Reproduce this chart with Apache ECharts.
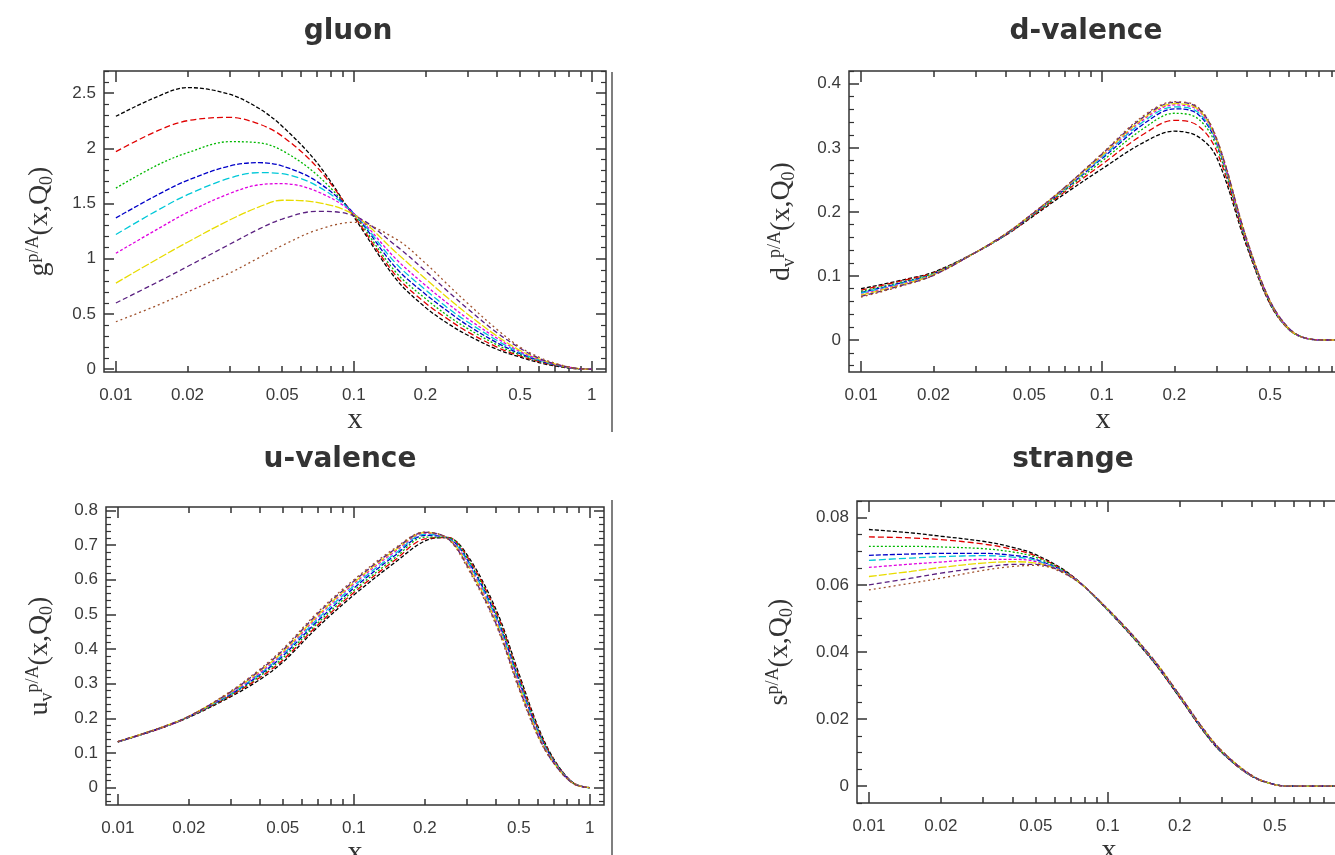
<!DOCTYPE html>
<html>
<head>
<meta charset="utf-8">
<script src="https://cdn.jsdelivr.net/npm/echarts@6/dist/echarts.min.js"></script>
<style>
  html, body { margin: 0; padding: 0; background: #fff; }
  #chart { width: 1335px; height: 855px; }
</style>
</head>
<body>
<div id="chart"></div>
<script>
// x grid shared by all four panels
const X = [0.01, 0.015, 0.02, 0.03, 0.04, 0.05, 0.07, 0.1, 0.15, 0.2, 0.25, 0.3, 0.4, 0.5, 0.6, 0.7, 0.85, 1.0]

const xLabelTicks = [0.01, 0.02, 0.05, 0.1, 0.2, 0.5, 1]
const xMajorTicks = [0.01, 0.1, 1]
const xMinorTicks = [0.02, 0.03, 0.04, 0.05, 0.06, 0.07, 0.08, 0.09, 0.2, 0.3, 0.4, 0.5, 0.6, 0.7, 0.8, 0.9]

const curveColors = ['#000000', '#e00000', '#00b800', '#0000c8', '#00c8d8', '#e000e0', '#e8dc00', '#5a2080', '#a0522d']
const curveDashes = [[4, 2], [6, 3], [2, 2], [5, 2], [7, 3], [3, 2], [8, 2], [5, 3], [2, 3]]

const gluon = [
  [2.29, 2.47, 2.55, 2.49, 2.36, 2.20, 1.87, 1.38, 0.82, 0.56, 0.41, 0.31, 0.18, 0.11, 0.06, 0.03, 0.005, 0],
  [1.97, 2.16, 2.25, 2.28, 2.22, 2.11, 1.83, 1.39, 0.85, 0.60, 0.45, 0.34, 0.20, 0.12, 0.07, 0.035, 0.006, 0],
  [1.64, 1.85, 1.96, 2.06, 2.05, 1.98, 1.76, 1.40, 0.88, 0.64, 0.48, 0.37, 0.22, 0.13, 0.075, 0.038, 0.007, 0],
  [1.37, 1.58, 1.71, 1.84, 1.87, 1.84, 1.70, 1.41, 0.92, 0.68, 0.52, 0.40, 0.24, 0.14, 0.08, 0.04, 0.008, 0],
  [1.22, 1.44, 1.58, 1.73, 1.78, 1.77, 1.66, 1.41, 0.96, 0.72, 0.55, 0.43, 0.26, 0.15, 0.085, 0.043, 0.008, 0],
  [1.05, 1.27, 1.42, 1.59, 1.67, 1.68, 1.61, 1.41, 1.00, 0.76, 0.59, 0.46, 0.28, 0.16, 0.09, 0.045, 0.009, 0],
  [0.78, 1.00, 1.15, 1.35, 1.47, 1.53, 1.51, 1.40, 1.06, 0.82, 0.64, 0.50, 0.30, 0.17, 0.095, 0.048, 0.009, 0],
  [0.60, 0.79, 0.93, 1.13, 1.27, 1.36, 1.43, 1.39, 1.12, 0.89, 0.70, 0.55, 0.33, 0.19, 0.10, 0.05, 0.01, 0],
  [0.43, 0.58, 0.70, 0.87, 1.01, 1.12, 1.26, 1.33, 1.18, 0.96, 0.76, 0.60, 0.36, 0.20, 0.11, 0.055, 0.01, 0]
]

const dValence = [
  [0.080, 0.094, 0.106, 0.137, 0.164, 0.189, 0.228, 0.267, 0.309, 0.326, 0.318, 0.285, 0.146, 0.056, 0.016, 0.003, 0, 0],
  [0.078, 0.093, 0.105, 0.137, 0.164, 0.190, 0.231, 0.274, 0.322, 0.343, 0.335, 0.295, 0.149, 0.057, 0.016, 0.003, 0, 0],
  [0.076, 0.091, 0.104, 0.137, 0.165, 0.191, 0.233, 0.279, 0.331, 0.354, 0.346, 0.302, 0.151, 0.058, 0.016, 0.003, 0, 0],
  [0.074, 0.090, 0.103, 0.137, 0.165, 0.192, 0.235, 0.283, 0.338, 0.361, 0.353, 0.307, 0.153, 0.059, 0.017, 0.003, 0, 0],
  [0.073, 0.089, 0.103, 0.137, 0.165, 0.192, 0.236, 0.285, 0.342, 0.364, 0.356, 0.309, 0.154, 0.059, 0.017, 0.003, 0, 0],
  [0.071, 0.088, 0.102, 0.137, 0.166, 0.193, 0.237, 0.287, 0.345, 0.367, 0.359, 0.311, 0.155, 0.060, 0.017, 0.003, 0, 0],
  [0.070, 0.087, 0.102, 0.137, 0.166, 0.193, 0.237, 0.288, 0.347, 0.369, 0.361, 0.312, 0.156, 0.060, 0.017, 0.003, 0, 0],
  [0.068, 0.086, 0.101, 0.137, 0.166, 0.193, 0.238, 0.290, 0.349, 0.371, 0.363, 0.314, 0.157, 0.061, 0.018, 0.003, 0, 0],
  [0.067, 0.085, 0.101, 0.137, 0.166, 0.194, 0.238, 0.291, 0.351, 0.372, 0.364, 0.315, 0.158, 0.061, 0.018, 0.003, 0, 0]
]

const uValence = [
  [0.132, 0.170, 0.203, 0.262, 0.312, 0.362, 0.462, 0.556, 0.651, 0.712, 0.722, 0.675, 0.515, 0.330, 0.180, 0.085, 0.014, 0],
  [0.132, 0.170, 0.204, 0.265, 0.318, 0.368, 0.468, 0.563, 0.658, 0.718, 0.722, 0.670, 0.508, 0.323, 0.175, 0.083, 0.014, 0],
  [0.132, 0.171, 0.204, 0.267, 0.322, 0.374, 0.474, 0.569, 0.664, 0.723, 0.722, 0.666, 0.502, 0.317, 0.171, 0.081, 0.013, 0],
  [0.132, 0.171, 0.205, 0.269, 0.326, 0.380, 0.480, 0.576, 0.671, 0.728, 0.721, 0.662, 0.496, 0.311, 0.167, 0.079, 0.013, 0],
  [0.133, 0.171, 0.205, 0.271, 0.329, 0.384, 0.486, 0.582, 0.676, 0.731, 0.721, 0.658, 0.490, 0.305, 0.163, 0.078, 0.013, 0],
  [0.133, 0.171, 0.205, 0.273, 0.332, 0.388, 0.492, 0.588, 0.682, 0.734, 0.720, 0.653, 0.484, 0.300, 0.159, 0.076, 0.012, 0],
  [0.133, 0.172, 0.206, 0.275, 0.336, 0.392, 0.496, 0.592, 0.686, 0.736, 0.719, 0.648, 0.479, 0.294, 0.156, 0.074, 0.012, 0],
  [0.133, 0.172, 0.206, 0.276, 0.339, 0.396, 0.501, 0.596, 0.689, 0.737, 0.719, 0.644, 0.474, 0.290, 0.153, 0.073, 0.012, 0],
  [0.133, 0.172, 0.206, 0.278, 0.342, 0.400, 0.505, 0.600, 0.692, 0.738, 0.718, 0.640, 0.470, 0.285, 0.150, 0.072, 0.012, 0]
]

const strange = [
  [0.0765, 0.0755, 0.0745, 0.0730, 0.0712, 0.0690, 0.0630, 0.0524, 0.0384, 0.0264, 0.0166, 0.0100, 0.0030, 0.0005, 0, 0, 0, 0],
  [0.0743, 0.0740, 0.0735, 0.0722, 0.0706, 0.0686, 0.0629, 0.0525, 0.0385, 0.0265, 0.0167, 0.0101, 0.0030, 0.0005, 0, 0, 0, 0],
  [0.0715, 0.0715, 0.0713, 0.0708, 0.0698, 0.0682, 0.0628, 0.0525, 0.0386, 0.0266, 0.0168, 0.0102, 0.0031, 0.0005, 0, 0, 0, 0],
  [0.0688, 0.0692, 0.0694, 0.0694, 0.0688, 0.0676, 0.0627, 0.0526, 0.0387, 0.0267, 0.0169, 0.0102, 0.0031, 0.0005, 0, 0, 0, 0],
  [0.0673, 0.0680, 0.0684, 0.0687, 0.0683, 0.0673, 0.0626, 0.0526, 0.0388, 0.0268, 0.0170, 0.0103, 0.0031, 0.0005, 0, 0, 0, 0],
  [0.0652, 0.0662, 0.0668, 0.0676, 0.0676, 0.0669, 0.0626, 0.0527, 0.0389, 0.0269, 0.0171, 0.0104, 0.0032, 0.0005, 0, 0, 0, 0],
  [0.0625, 0.0640, 0.0652, 0.0665, 0.0669, 0.0665, 0.0625, 0.0527, 0.0390, 0.0270, 0.0172, 0.0105, 0.0032, 0.0005, 0, 0, 0, 0],
  [0.0600, 0.0620, 0.0635, 0.0652, 0.0661, 0.0661, 0.0624, 0.0528, 0.0391, 0.0271, 0.0173, 0.0105, 0.0032, 0.0005, 0, 0, 0, 0],
  [0.0585, 0.0605, 0.0620, 0.0643, 0.0655, 0.0658, 0.0623, 0.0528, 0.0392, 0.0272, 0.0174, 0.0106, 0.0033, 0.0005, 0, 0, 0, 0]
]

const gluonYTicks = [0, 0.5, 1, 1.5, 2, 2.5]
const dValenceYTicks = [0, 0.1, 0.2, 0.3, 0.4]
const uValenceYTicks = [0, 0.1, 0.2, 0.3, 0.4, 0.5, 0.6, 0.7, 0.8]
const strangeYTicks = [0, 0.02, 0.04, 0.06, 0.08]

const panels = [
  {
    title: 'gluon', titleX: 348, titleY: 32, data: gluon,
    grid: { left: 104, top: 71, width: 502, height: 301 },
    yMin: -0.025, yMax: 2.7, yTicks: gluonYTicks, yMinorStep: 0.1, nameGap: 48,
    yName: '{m|g}{sup|p/A}{m|(x,Q}{sub|0}{m|)}'
  },
  {
    title: 'd-valence', titleX: 1086, titleY: 32, data: dValence,
    grid: { left: 849, top: 71, width: 508, height: 301 },
    yMin: -0.05, yMax: 0.42, yTicks: dValenceYTicks, yMinorStep: 0.02, nameGap: 51,
    yName: '{m|d}{sub|v}{sup|p/A}{m|(x,Q}{sub|0}{m|)}'
  },
  {
    title: 'u-valence', titleX: 340, titleY: 460, data: uValence,
    grid: { left: 106, top: 507, width: 498, height: 298 },
    yMin: -0.05, yMax: 0.81, yTicks: uValenceYTicks, yMinorStep: 0.02, nameGap: 50,
    yName: '{m|u}{sub|v}{sup|p/A}{m|(x,Q}{sub|0}{m|)}'
  },
  {
    title: 'strange', titleX: 1073, titleY: 460, data: strange,
    grid: { left: 857, top: 501, width: 504, height: 302 },
    yMin: -0.005, yMax: 0.085, yTicks: strangeYTicks, yMinorStep: 0.005, nameGap: 61,
    yName: '{m|s}{sup|p/A}{m|(x,Q}{sub|0}{m|)}'
  }
]

const LOG_MIN = -2.05
const LOG_MAX = 0.06
const log10 = v => Math.log10(v)

const tickFont = { fontFamily: 'Liberation Sans, Arial, sans-serif', fontSize: 17, color: '#3a3a3a' }
const serif = 'Liberation Serif, Times New Roman, serif'
const tickLine = { color: '#333', width: 1.5 }

function minorTicks(min, max, step, majors) {
  const out = []
  for (let k = Math.ceil(min / step); k * step <= max + 1e-9; k++) {
    const v = +(k * step).toFixed(6)
    if (!majors.some(m => Math.abs(m - v) < 1e-9)) out.push(v)
  }
  return out
}

const grids = []
const xAxes = []
const yAxes = []
const series = []
const graphics = []

panels.forEach((p, gi) => {
  grids.push({
    ...p.grid,
    outerBoundsMode: 'none',
    show: true,
    borderColor: '#333',
    borderWidth: 1.5,
    backgroundColor: 'transparent'
  })

  const xBase = {
    type: 'value', gridIndex: gi, min: LOG_MIN, max: LOG_MAX,
    axisLine: { show: false, onZero: false }, splitLine: { show: false }
  }
  // bottom: labels + long decade ticks
  xAxes.push({
    ...xBase,
    position: 'bottom',
    name: 'x',
    nameLocation: 'middle',
    nameGap: 31,
    nameTextStyle: { fontFamily: serif, fontSize: 30, color: '#333' },
    axisTick: { show: true, inside: true, length: 11, customValues: xMajorTicks.map(log10), lineStyle: tickLine },
    axisLabel: {
      show: true, margin: 15, ...tickFont,
      customValues: xLabelTicks.map(log10),
      formatter: v => String(Number(Math.pow(10, v).toPrecision(1)))
    }
  })
  xAxes.push({
    ...xBase, position: 'bottom',
    axisTick: { show: true, inside: true, length: 6, customValues: xMinorTicks.map(log10), lineStyle: tickLine },
    axisLabel: { show: false }
  })
  xAxes.push({
    ...xBase, position: 'top',
    axisTick: { show: true, inside: true, length: 11, customValues: xMajorTicks.map(log10), lineStyle: tickLine },
    axisLabel: { show: false }
  })
  xAxes.push({
    ...xBase, position: 'top',
    axisTick: { show: true, inside: true, length: 6, customValues: xMinorTicks.map(log10), lineStyle: tickLine },
    axisLabel: { show: false }
  })

  const yMinor = minorTicks(p.yMin, p.yMax, p.yMinorStep, p.yTicks)
  const yBase = {
    type: 'value', gridIndex: gi, min: p.yMin, max: p.yMax,
    axisLine: { show: false, onZero: false }, splitLine: { show: false }
  }
  yAxes.push({
    ...yBase,
    position: 'left',
    name: p.yName,
    nameLocation: 'middle',
    nameRotate: 90,
    nameGap: p.nameGap,
    nameTextStyle: {
      rich: {
        m: { fontFamily: serif, fontSize: 28, color: '#333', lineHeight: 32 },
        sup: { fontFamily: serif, fontSize: 18, color: '#333', verticalAlign: 'top', lineHeight: 32 },
        sub: { fontFamily: serif, fontSize: 18, color: '#333', verticalAlign: 'bottom', lineHeight: 32 }
      }
    },
    axisTick: { show: true, inside: true, length: 10, customValues: p.yTicks, lineStyle: tickLine },
    axisLabel: { show: true, margin: 8, ...tickFont, customValues: p.yTicks }
  })
  yAxes.push({
    ...yBase, position: 'left',
    axisTick: { show: true, inside: true, length: 5, customValues: yMinor, lineStyle: { color: '#333', width: 1.2 } },
    axisLabel: { show: false }
  })
  yAxes.push({
    ...yBase, position: 'right',
    axisTick: { show: true, inside: true, length: 10, customValues: p.yTicks, lineStyle: tickLine },
    axisLabel: { show: false }
  })
  yAxes.push({
    ...yBase, position: 'right',
    axisTick: { show: true, inside: true, length: 5, customValues: yMinor, lineStyle: { color: '#333', width: 1.2 } },
    axisLabel: { show: false }
  })

  p.data.forEach((vals, ci) => {
    series.push({
      type: 'line',
      xAxisIndex: gi * 4,
      yAxisIndex: gi * 4,
      data: X.map((x, k) => [log10(x), vals[k]]),
      smooth: 0.35,
      symbol: 'none',
      silent: true,
      lineStyle: { color: curveColors[ci], width: 1.3, type: curveDashes[ci] }
    })
  })

  graphics.push({
    type: 'text',
    x: p.titleX,
    y: p.titleY,
    style: {
      text: p.title,
      textAlign: 'center',
      textVerticalAlign: 'middle',
      font: 'bold 28px "DejaVu Sans", sans-serif',
      fill: '#333'
    }
  })
})

// stray frame lines of the original scan
graphics.push({ type: 'line', shape: { x1: 612, y1: 72, x2: 612, y2: 432 }, style: { stroke: '#555', lineWidth: 1.5 } })
graphics.push({ type: 'line', shape: { x1: 612, y1: 500, x2: 612, y2: 855 }, style: { stroke: '#555', lineWidth: 1.5 } })

const chart = echarts.init(document.getElementById('chart'))
chart.setOption({
  animation: false,
  backgroundColor: '#fff',
  grid: grids,
  xAxis: xAxes,
  yAxis: yAxes,
  series: series,
  graphic: graphics
})
</script>
</body>
</html>
